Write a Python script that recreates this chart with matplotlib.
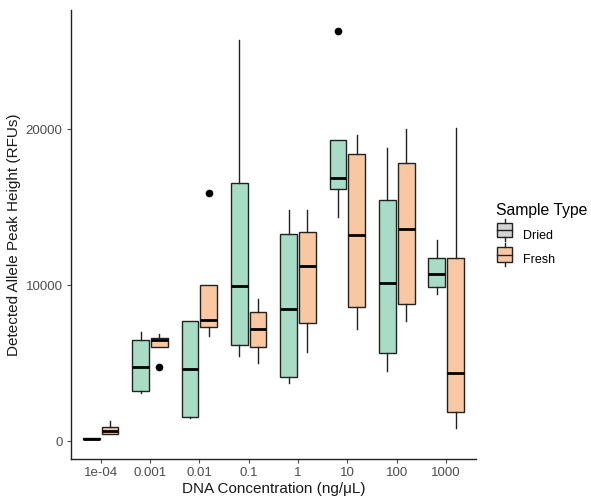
import matplotlib.pyplot as plt
import matplotlib.patches as mpatches
from matplotlib.legend_handler import HandlerBase
import numpy as np

plt.rcParams['font.family'] = ['Liberation Sans', 'DejaVu Sans']

conc = ["1e-04", "0.001", "0.01", "0.1", "1", "10", "100", "1000"]

# box stats (RFU)
dried_lo = [150, 3060, 1470, 5450, 3700, 14380, 4510, 9420]
dried_q1 = [120, 3185, 1560, 6150, 4080, 16150, 5620, 9890]
dried_med = [150, 4760, 4640, 9940, 8480, 16840, 10150, 10710]
dried_q3 = [180, 6470, 7690, 16520, 13250, 19300, 15450, 11750]
dried_hi = [180, 6970, 7690, 25700, 14810, 19300, 18800, 12880]
dried_out = [[], [], [], [], [], [26280], [], []]

fresh_lo = [429, 6000, 6730, 5020, 5720, 7160, 7710, 810]
fresh_q1 = [429, 6000, 7290, 6000, 7580, 8610, 8780, 1840]
fresh_med = [660, 6470, 7760, 7180, 11240, 13190, 13570, 4340]
fresh_q3 = [917, 6600, 10000, 8290, 13380, 18400, 17840, 11710]
fresh_hi = [1280, 6860, 10000, 9080, 14810, 19620, 20040, 20080]
fresh_out = [[], [4720], [15920], [], [], [], [], []]

dried_col = "#a9dcc6"
fresh_col = "#f9c8a2"
edge = "#222222"


def make_stats(lo, q1, med, q3, hi, out):
    return [dict(whislo=a, q1=b, med=c, q3=d, whishi=e, fliers=f)
            for a, b, c, d, e, f in zip(lo, q1, med, q3, hi, out)]


fig = plt.figure(figsize=(5.91, 4.97), dpi=100)
ax = fig.add_axes([0.120, 0.0765, 0.685, 0.9035])

x = np.arange(1, len(conc) + 1)
for stats, off, col in [
        (make_stats(dried_lo, dried_q1, dried_med, dried_q3, dried_hi, dried_out), -0.19, dried_col),
        (make_stats(fresh_lo, fresh_q1, fresh_med, fresh_q3, fresh_hi, fresh_out), 0.19, fresh_col)]:
    ax.bxp(stats, positions=x + off, widths=0.34, patch_artist=True,
           showcaps=False,
           boxprops=dict(facecolor=col, edgecolor=edge, linewidth=1.0),
           medianprops=dict(color="black", linewidth=2.0),
           whiskerprops=dict(color=edge, linewidth=1.0),
           flierprops=dict(marker="o", markerfacecolor="black", markeredgecolor="black",
                           markersize=4.5))

ax.set_xlim(0.4, 8.6)
ax.set_ylim(-1150, 27650)
ax.set_xticks(x)
ax.set_xticklabels(conc)
ax.set_yticks([0, 10000, 20000])
ax.set_yticklabels(["0", "10000", "20000"])
ax.tick_params(colors="#4d4d4d", labelsize=9.5, length=3, width=0.8, pad=3)
for s in ["top", "right"]:
    ax.spines[s].set_visible(False)
for s in ["left", "bottom"]:
    ax.spines[s].set_linewidth(1.0)
    ax.spines[s].set_color("#222222")

ax.set_xlabel("DNA Concentration (ng/\u03bcL)", fontsize=11, color="#1a1a1a", labelpad=2)
ax.set_ylabel("Detected Allele Peak Height (RFUs)", fontsize=11, color="#1a1a1a", labelpad=3)


class BoxKey(HandlerBase):
    def create_artists(self, legend, orig, xd, yd, width, height, fontsize, trans):
        w = width * 0.9
        h = height * 1.1
        x0 = xd + (width - w) / 2
        y0 = yd + (height - h) / 2
        rect = mpatches.Rectangle((x0, y0), w, h, facecolor=orig.get_facecolor(),
                                  edgecolor=edge, lw=1.0, transform=trans)
        mid = plt.Line2D([x0, x0 + w], [y0 + h / 2] * 2, color=edge, lw=1.0, transform=trans)
        cx = x0 + w / 2
        wt = plt.Line2D([cx, cx], [y0 + h, y0 + h + 3], color=edge, lw=1.0, transform=trans)
        wb = plt.Line2D([cx, cx], [y0 - 3, y0], color=edge, lw=1.0, transform=trans)
        return [rect, mid, wt, wb]


handles = [mpatches.Patch(facecolor="#d3d3d3"), mpatches.Patch(facecolor=fresh_col)]
leg = fig.legend(handles, ["Dried", "Fresh"], title="Sample Type",
                 handler_map={mpatches.Patch: BoxKey()},
                 loc="upper left", bbox_to_anchor=(0.82, 0.615), frameon=False,
                 fontsize=9, title_fontsize=11.3, handlelength=1.4, handleheight=1.2,
                 labelspacing=0.85, handletextpad=0.8)
leg._legend_box.align = "left"

fig.savefig("out.png", dpi=100)
